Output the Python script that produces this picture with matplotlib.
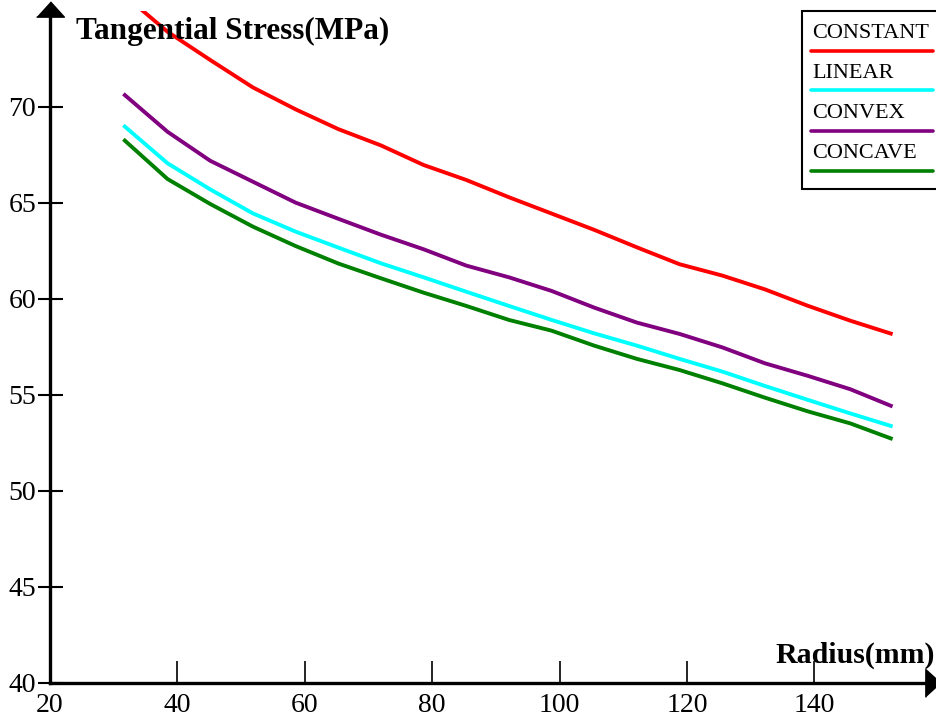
import matplotlib
matplotlib.use("Agg")
import matplotlib.pyplot as plt
from matplotlib.lines import Line2D
from matplotlib.patches import Rectangle

plt.rcParams['font.family'] = ['Liberation Serif', 'DejaVu Serif']

# radius (mm)
radius = [31.75, 38.45, 45.15, 51.85, 58.55, 65.25, 71.95, 78.65, 85.35, 92.05,
          98.75, 105.45, 112.15, 118.85, 125.55, 132.25, 138.95, 145.65, 152.0]

# tangential stress (MPa)
constant = [75.8, 73.92, 72.45, 71.02, 69.88, 68.85, 68.0, 66.98, 66.2, 65.3,
            64.45, 63.6, 62.69, 61.81, 61.22, 60.5, 59.65, 58.87, 58.2]
linear = [68.98, 67.07, 65.71, 64.46, 63.51, 62.68, 61.86, 61.13, 60.38, 59.64,
          58.91, 58.21, 57.57, 56.88, 56.22, 55.47, 54.75, 54.04, 53.39]
convex = [70.62, 68.71, 67.2, 66.11, 65.02, 64.18, 63.35, 62.59, 61.74, 61.13,
          60.42, 59.55, 58.77, 58.18, 57.48, 56.65, 56.0, 55.3, 54.44]
concave = [68.25, 66.25, 64.95, 63.77, 62.76, 61.85, 61.08, 60.33, 59.64, 58.91,
           58.35, 57.57, 56.88, 56.3, 55.61, 54.86, 54.15, 53.52, 52.74]

names = ['CONSTANT', 'LINEAR', 'CONVEX', 'CONCAVE']
series = [constant, linear, convex, concave]
colors = ['#ff0000', '#00ffff', '#800080', '#008000']

xticks = [20, 40, 60, 80, 100, 120, 140]
yticks = [40, 45, 50, 55, 60, 65, 70]

W, H = 936, 720
fig = plt.figure(figsize=(W / 100, H / 100), dpi=100)
ax = fig.add_axes([50 / W, 37 / H, 879 / W, 672 / H])

for ys, c in zip(series, colors):
    ax.plot(radius, ys, color=c, lw=2.8, solid_joinstyle='round')

ax.set_xlim(20, 158)
ax.set_ylim(40, 75)

for s in ['top', 'right']:
    ax.spines[s].set_visible(False)
for s in ['left', 'bottom']:
    ax.spines[s].set_linewidth(2.4)

ax.set_xticks(xticks)
ax.set_yticks(yticks)
ax.tick_params(axis='x', direction='in', length=16, width=1.2, pad=7, labelsize=20)
ax.tick_params(axis='y', direction='inout', length=18, width=1.5, pad=1, labelsize=20)

# arrow heads on the axes
head = [(-1, -0.55), (1, -0.55), (0, 0.55)]
ax.plot([0], [1.003], marker=head, ms=20, color='black', transform=ax.transAxes, clip_on=False)
ax.plot([1.005], [0], marker=[(-0.55, -1), (-0.55, 1), (0.55, 0)], ms=20, color='black',
        transform=ax.transAxes, clip_on=False)

fig.text(76 / W, 1 - 31 / H, 'Tangential Stress(MPa)', fontsize=22.5, fontweight='bold',
         ha='left', va='center')
fig.text(935 / W, 1 - 655 / H, 'Radius(mm)', fontsize=21.5, fontweight='bold',
         ha='right', va='center')

# legend: label above a line sample
fig.add_artist(Rectangle((802 / W, 1 - 189 / H), 140 / W, 178 / H, transform=fig.transFigure,
                         facecolor='white', edgecolor='black', lw=1.5))
text_y = [33, 73, 113, 153]
line_y = [51, 90, 131, 171]
for name, c, ty, ly in zip(names, colors, text_y, line_y):
    fig.text(812 / W, 1 - ty / H, name, fontsize=16, ha='left', va='center')
    fig.add_artist(Line2D([811 / W, 933 / W], [1 - ly / H, 1 - ly / H], color=c, lw=2.6,
                          solid_capstyle='round', transform=fig.transFigure))

fig.savefig('out.png', dpi=100)
